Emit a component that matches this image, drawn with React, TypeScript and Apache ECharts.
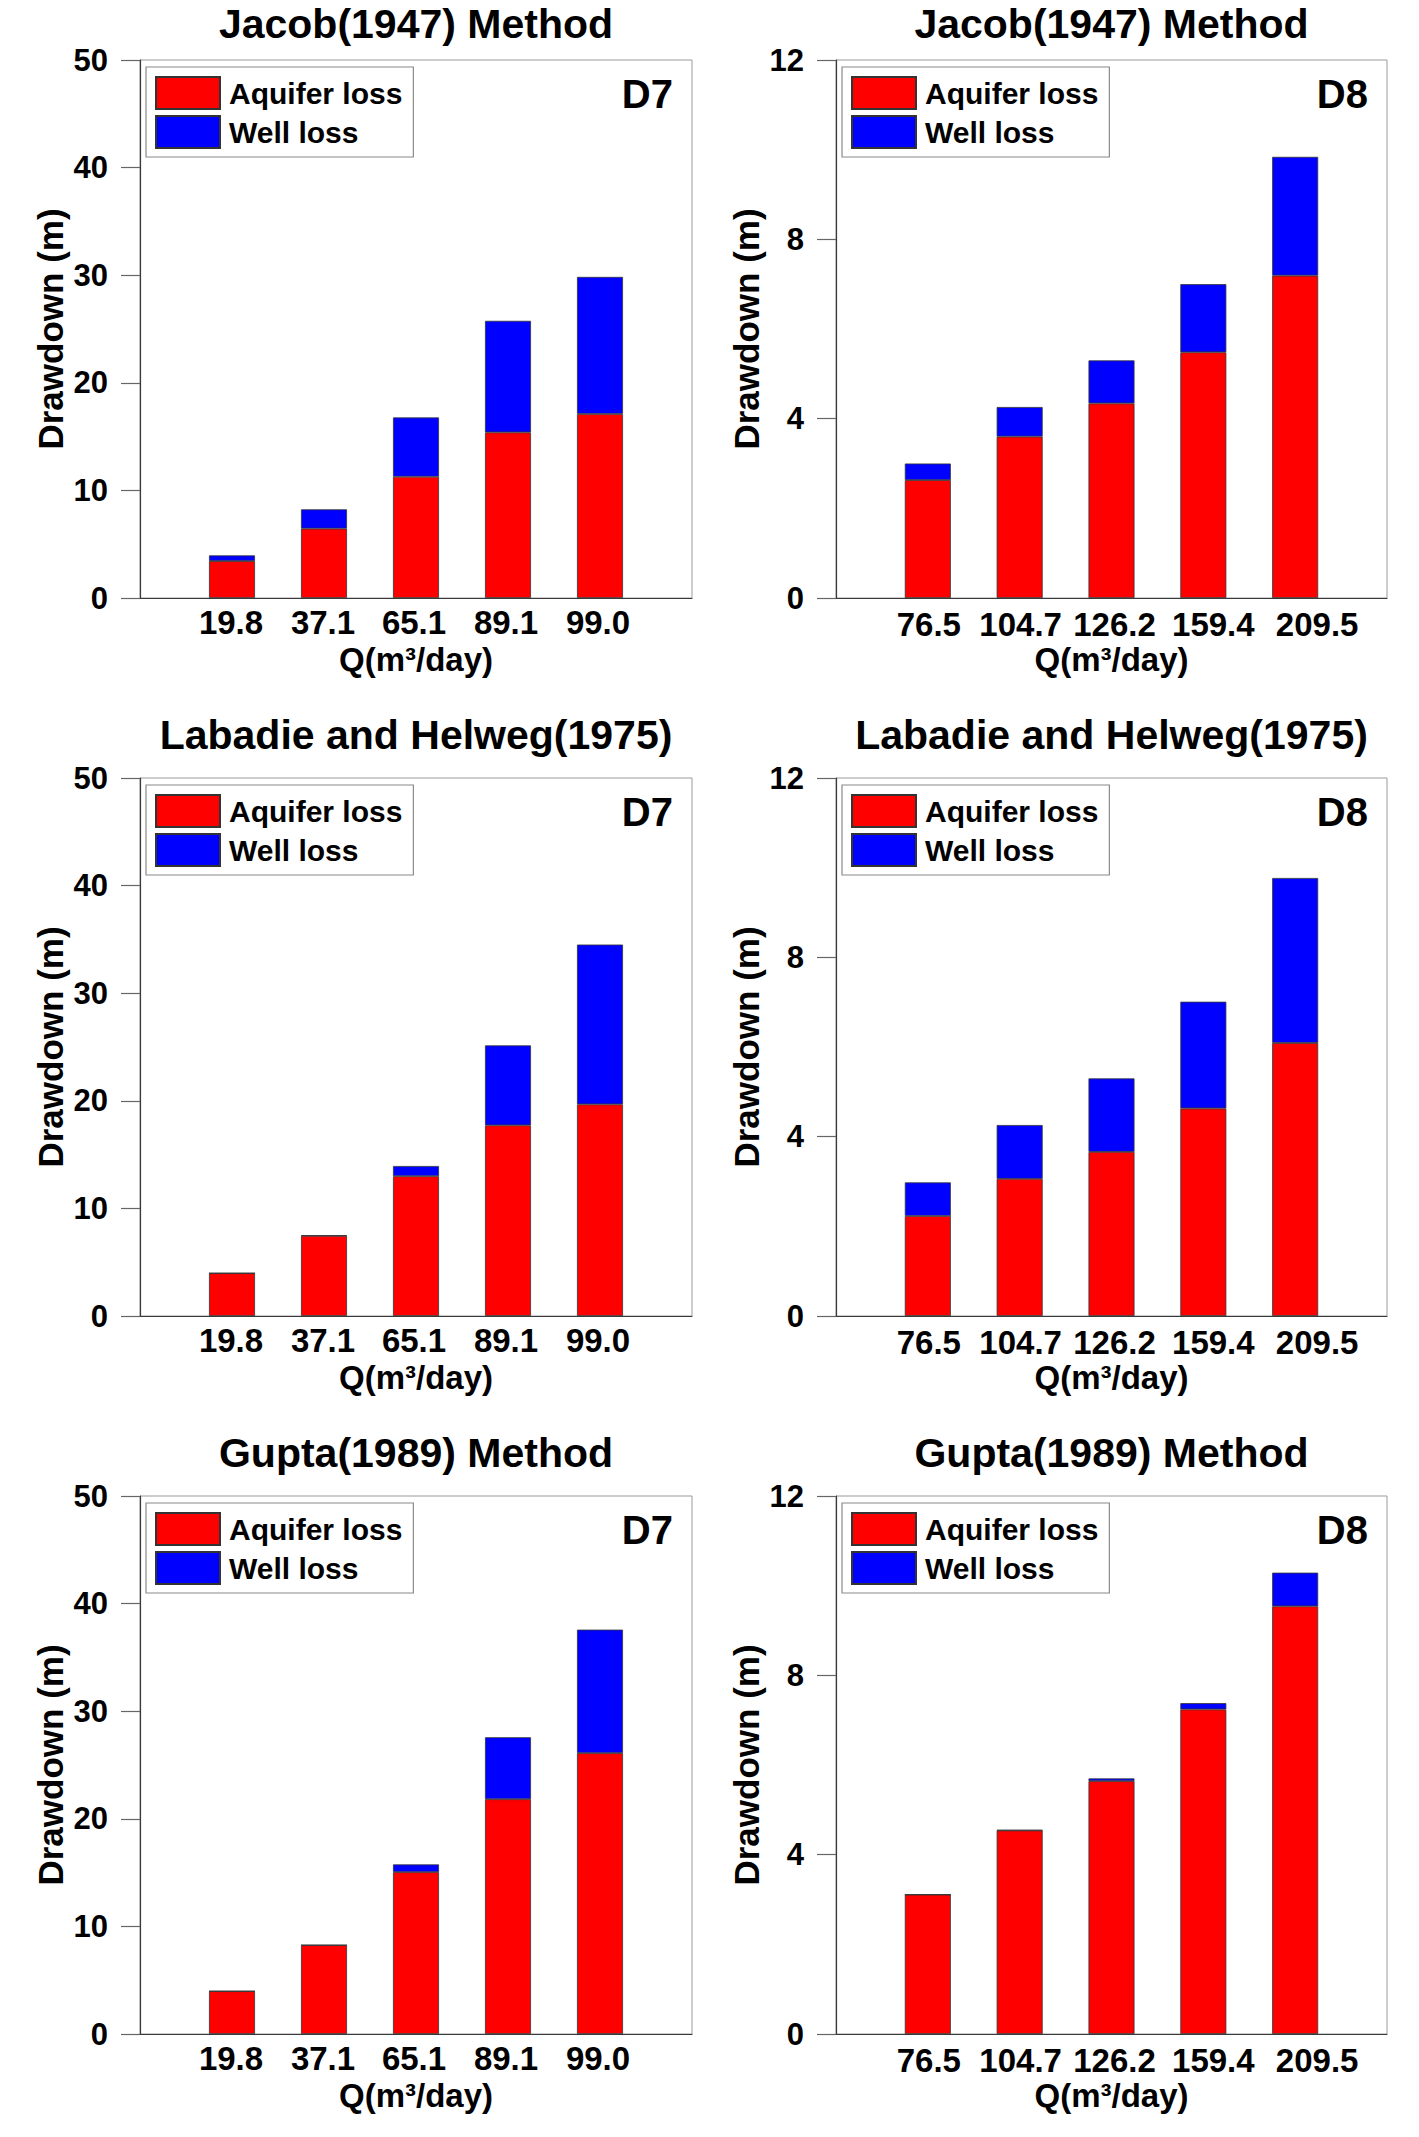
import React, { useEffect, useRef } from "react";
import * as echarts from "echarts";

// ---- data ----
const qD7 = ["19.8", "37.1", "65.1", "89.1", "99.0"];
const qD8 = ["76.5", "104.7", "126.2", "159.4", "209.5"];
const methodTitles = ["Jacob(1947) Method", "Labadie and Helweg(1975)", "Gupta(1989) Method"];
const wellNames = ["D7", "D8"];
const seriesNames = ["Aquifer loss", "Well loss"];

const jacobD7Aquifer = [3.43, 6.45, 11.27, 15.39, 17.1];
const jacobD7Well = [0.53, 1.79, 5.51, 10.37, 12.74];
const jacobD8Aquifer = [2.63, 3.6, 4.34, 5.48, 7.19];
const jacobD8Well = [0.37, 0.66, 0.96, 1.52, 2.65];

const labadieD7Aquifer = [3.98, 7.45, 12.99, 17.72, 19.67];
const labadieD7Well = [0, 0.05, 0.95, 7.43, 14.85];
const labadieD8Aquifer = [2.23, 3.06, 3.66, 4.63, 6.09];
const labadieD8Well = [0.75, 1.2, 1.64, 2.38, 3.68];

const guptaD7Aquifer = [3.98, 8.26, 15.04, 21.82, 26.1];
const guptaD7Well = [0, 0, 0.72, 5.76, 11.48];
const guptaD8Aquifer = [3.11, 4.54, 5.64, 7.24, 9.54];
const guptaD8Well = [0, 0.01, 0.06, 0.14, 0.75];

const yMaxD7 = 50;
const yStepD7 = 10;
const yMaxD8 = 12;
const yStepD8 = 4;

const panels = [
  { row: 0, col: 0, cats: qD7, aq: jacobD7Aquifer, wl: jacobD7Well, max: yMaxD7, step: yStepD7 },
  { row: 0, col: 1, cats: qD8, aq: jacobD8Aquifer, wl: jacobD8Well, max: yMaxD8, step: yStepD8 },
  { row: 1, col: 0, cats: qD7, aq: labadieD7Aquifer, wl: labadieD7Well, max: yMaxD7, step: yStepD7 },
  { row: 1, col: 1, cats: qD8, aq: labadieD8Aquifer, wl: labadieD8Well, max: yMaxD8, step: yStepD8 },
  { row: 2, col: 0, cats: qD7, aq: guptaD7Aquifer, wl: guptaD7Well, max: yMaxD7, step: yStepD7 },
  { row: 2, col: 1, cats: qD8, aq: guptaD8Aquifer, wl: guptaD8Well, max: yMaxD8, step: yStepD8 },
];

// ---- layout ----
const W = 1419;
const H = 2137;
const rowTops = [60, 778, 1496];
const titleYs = [24, 735, 1453];
const plotH = 538;
const colLefts = [140, 836];
const plotWs = [552, 551];
// horizontal drift of the tick labels relative to their bars in the original figure (px)
const labelShifts = [
  [0, -1, -1, -2, -2, -2, 0],
  [0, 1, 1, 3, 10, 22, 0],
];
const labelMargins = [8, 10];
const FONT = "'Liberation Sans', Arial, Helvetica, sans-serif";

export default function App() {
  const ref = useRef<HTMLDivElement | null>(null);

  useEffect(() => {
    if (!ref.current) return;
    const chart = echarts.init(ref.current, null, { renderer: "svg", width: W, height: H });

    const grid: any[] = [];
    const xAxis: any[] = [];
    const yAxis: any[] = [];
    const series: any[] = [];
    const legend: any[] = [];
    const graphic: any[] = [];

    const labelFont = { fontSize: 33, fontWeight: "bold", fontFamily: FONT, color: "#000" };

    panels.forEach((p, i) => {
      const left = colLefts[p.col];
      const top = rowTops[p.row];
      const width = plotWs[p.col];
      grid.push({
        left,
        top,
        width,
        height: plotH,
        show: true,
        borderColor: "#9a9a9a",
        borderWidth: 1,
        backgroundColor: "transparent",
        containLabel: false,
      });
      // padded category list: an empty slot at each end so bars sit at positions 1..5 of 0..6
      const cats = ["", ...p.cats, ""];
      const shifts = labelShifts[p.col];
      const rich: any = {};
      shifts.forEach((s, k) => {
        rich["o" + k] = {
          ...labelFont,
          padding: s >= 0 ? [0, 0, 0, 2 * s] : [0, -2 * s, 0, 0],
        };
      });
      xAxis.push({
        type: "category",
        gridIndex: i,
        data: cats,
        boundaryGap: false,
        splitLine: { show: false },
        axisTick: { show: false },
        axisLine: { show: true, onZero: false, lineStyle: { color: "#3a3a3a", width: 1.2 } },
        axisLabel: {
          interval: 0,
          margin: labelMargins[p.col],
          ...labelFont,
          formatter: (v: string, idx: number) => (v ? `{o${idx}|${v}}` : ""),
          rich,
        },
        name: "Q(m³/day)",
        nameLocation: "middle",
        nameGap: 45,
        nameTextStyle: { fontSize: 33, fontWeight: "bold", fontFamily: FONT, color: "#000" },
      });
      yAxis.push({
        type: "value",
        gridIndex: i,
        min: 0,
        max: p.max,
        interval: p.step,
        splitLine: { show: false },
        axisLine: { show: true, lineStyle: { color: "#3a3a3a", width: 1.2 } },
        axisTick: { show: true, inside: false, length: 19, lineStyle: { color: "#666", width: 1.2 } },
        axisLabel: {
          margin: 32,
          fontSize: 31,
          fontWeight: "bold",
          fontFamily: FONT,
          color: "#000",
        },
        name: "Drawdown (m)",
        nameLocation: "middle",
        nameGap: 72,
        nameTextStyle: { fontSize: 35, fontWeight: "bold", fontFamily: FONT, color: "#000" },
      });
      series.push({
        type: "bar",
        name: seriesNames[0],
        xAxisIndex: i,
        yAxisIndex: i,
        stack: "s" + i,
        barWidth: 46,
        itemStyle: { color: "#ff0000", borderColor: "#333", borderWidth: 0.8 },
        data: [null, ...p.aq, null],
      });
      series.push({
        type: "bar",
        name: seriesNames[1],
        xAxisIndex: i,
        yAxisIndex: i,
        stack: "s" + i,
        barWidth: 46,
        itemStyle: { color: "#0000ff", borderColor: "#333", borderWidth: 0.8 },
        data: [null, ...p.wl, null],
      });
      legend.push({
        data: seriesNames,
        orient: "vertical",
        left: left + 6,
        top: top + 7,
        itemWidth: 64,
        itemHeight: 32,
        itemGap: 5,
        padding: [9, 11, 8, 9],
        borderColor: "#8a8a8a",
        borderWidth: 1.2,
        icon: "rect",
        selectedMode: false,
        textStyle: {
          fontSize: 30,
          fontWeight: "bold",
          fontFamily: FONT,
          color: "#000",
          padding: [0, 0, 3, 4],
        },
      });
      graphic.push({
        type: "text",
        x: left + width - 19,
        y: top + 34,
        style: {
          text: wellNames[p.col],
          align: "right",
          verticalAlign: "middle",
          fontSize: 40,
          fontWeight: "bold",
          fontFamily: FONT,
          fill: "#000",
        },
      });
      graphic.push({
        type: "text",
        x: left + width / 2,
        y: titleYs[p.row],
        style: {
          text: methodTitles[p.row],
          align: "center",
          verticalAlign: "middle",
          fontSize: 41,
          fontWeight: "bold",
          fontFamily: FONT,
          fill: "#000",
        },
      });
    });

    chart.setOption({
      animation: false,
      backgroundColor: "#fff",
      grid,
      xAxis,
      yAxis,
      series,
      legend,
      graphic,
    });

    return () => {
      chart.dispose();
    };
  }, []);

  return (
    <div
      ref={ref}
      style={{ position: "absolute", left: 0, top: 0, width: W, height: H, background: "#fff" }}
    />
  );
}
